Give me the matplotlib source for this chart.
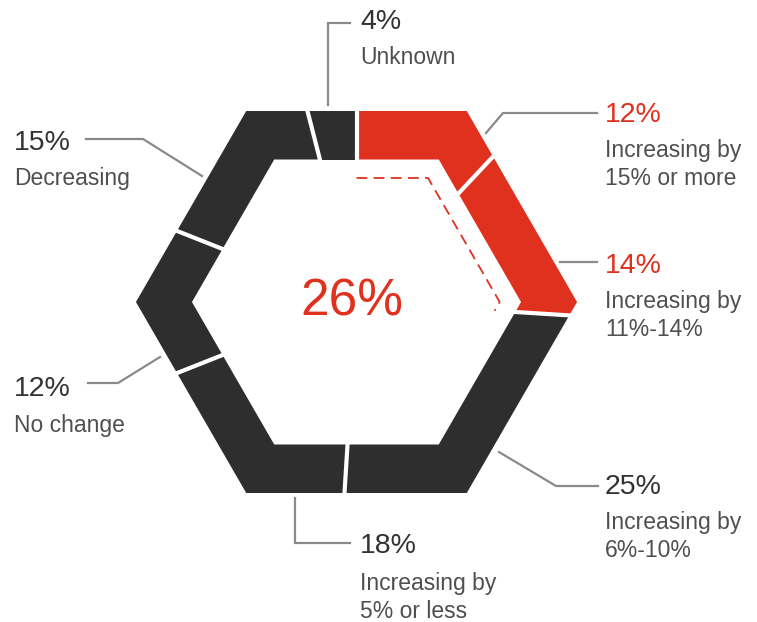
import numpy as np
import matplotlib
matplotlib.use("Agg")
import matplotlib.pyplot as plt
from matplotlib.patches import Polygon

# ---- data ----
categories = ["Increasing by\n15% or more", "Increasing by\n11%-14%", "Increasing by\n6%-10%",
              "Increasing by\n5% or less", "No change", "Decreasing", "Unknown"]
values = [12, 14, 25, 18, 12, 15, 4]
highlight = [True, True, False, False, False, False, False]
center_label = "26%"

RED = "#e0311f"
DARK = "#2e2e2e"
GRAY_LINE = "#8a8a8a"
NUM_COL = "#333333"
DESC_COL = "#4f4f4f"

W, H = 757, 622
fig = plt.figure(figsize=(W / 100, H / 100), dpi=100)
ax = fig.add_axes([0, 0, 1, 1])
ax.set_xlim(0, W)
ax.set_ylim(H, 0)
ax.axis("off")

cx, cy = 356.5, 302.0
A_OUT, A_IN, A_DASH = 191.0, 142.5, 124.0


def radius(theta_deg, apothem):
    phi = 30 + 60 * np.round((theta_deg - 30) / 60.0)
    return apothem / np.cos(np.radians(theta_deg - phi))


def pt(theta_deg, apothem):
    r = radius(theta_deg, apothem)
    t = np.radians(theta_deg)
    return cx + r * np.cos(t), cy - r * np.sin(t)


def path_angles(t0, t1):
    # clockwise from t0 down to t1, include hexagon vertices
    angs = [t0]
    k = np.floor(t0 / 60.0)
    v = k * 60
    while v > t1:
        if v < t0:
            angs.append(v)
        v -= 60
    angs.append(t1)
    return angs


total = float(sum(values))
cum = 0.0
bounds = []
for v, hl in zip(values, highlight):
    t0 = 90 - 360 * cum / total
    t1 = 90 - 360 * (cum + v) / total
    angs = path_angles(t0, t1)
    outer = [pt(a, A_OUT) for a in angs]
    inner = [pt(a, A_IN) for a in reversed(angs)]
    ax.add_patch(Polygon(outer + inner, closed=True, facecolor=RED if hl else DARK,
                         edgecolor="none", zorder=2))
    bounds.append(t0)
    cum += v

# white gaps between segments
for b in bounds:
    x0, y0 = pt(b, A_IN - 3)
    x1, y1 = pt(b, A_OUT + 3)
    ax.plot([x0, x1], [y0, y1], color="white", lw=3.0, solid_capstyle="butt", zorder=3)

# dashed guide inside highlighted share
hl_share = sum(v for v, h in zip(values, highlight) if h)
angs = path_angles(90, 90 - 360 * hl_share / total)
dp = np.array([pt(a, A_DASH) for a in angs])
ax.plot(dp[:, 0], dp[:, 1], color=RED, lw=1.3, dashes=(6, 3.5), zorder=3)

FONT = "Liberation Sans"
ax.text(352, 315, center_label, color=RED, fontsize=37, family=FONT,
        ha="center", va="baseline")

# leader lines (layout)
leaders = [
    [(486, 133), (503, 113), (597, 113)],
    [(560, 262), (597, 262)],
    [(499, 452), (556, 486), (598, 486)],
    [(295, 498), (295, 543), (350, 543)],
    [(160, 357), (118, 383), (88, 383)],
    [(202, 176), (143, 139), (86, 139)],
    [(328, 105), (328, 23), (350, 23)],
]
# label anchors: (x, number baseline, description first baseline)
anchors = [
    (605, 122, 157),
    (605, 273, 308),
    (605, 494, 529),
    (360, 553, 590),
    (14, 396, 432),
    (14, 150, 185),
    (360, 29, 64),
]
for v, hl, cat, ln, (tx, nb, db) in zip(values, highlight, categories, leaders, anchors):
    p = np.array(ln)
    ax.plot(p[:, 0], p[:, 1], color=GRAY_LINE, lw=1.6, zorder=1,
            solid_joinstyle="miter")
    ax.text(tx, nb, f"{v}%", color=RED if hl else NUM_COL, fontsize=20.5,
            family=FONT, ha="left", va="baseline")
    for i, line in enumerate(cat.split("\n")):
        ax.text(tx, db + 28 * i, line, color=DESC_COL, fontsize=16.5,
                family=FONT, ha="left", va="baseline")

fig.savefig("out.png", dpi=100)
